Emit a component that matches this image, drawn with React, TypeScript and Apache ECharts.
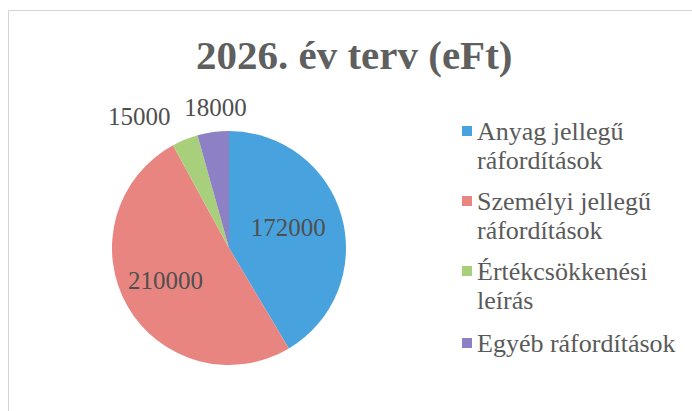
import React, { useEffect, useRef } from "react";
import * as echarts from "echarts";

const titleText = "2026. év terv (eFt)";
const categories = [
  "Anyag jellegű ráfordítások",
  "Személyi jellegű ráfordítások",
  "Értékcsökkenési leírás",
  "Egyéb ráfordítások",
];
const legendLines = [
  ["Anyag jellegű", "ráfordítások"],
  ["Személyi jellegű", "ráfordítások"],
  ["Értékcsökkenési", "leírás"],
  ["Egyéb ráfordítások"],
];
const values = [172000, 210000, 15000, 18000];
const labelPositions = ["inside", "inside", "outside", "outside"];
const colors = ["#48a2de", "#e98580", "#a8cf7c", "#8d80c5"];

const FONT = "'Liberation Serif', 'Times New Roman', serif";

export default function App() {
  const ref = useRef<HTMLDivElement>(null);

  useEffect(() => {
    if (!ref.current) return;
    const chart = echarts.init(ref.current, null, { renderer: "svg" });
    const legendTops = [87.5, 157.5, 227.5, 328.5];
    chart.setOption({
      animation: false,
      backgroundColor: "#ffffff",
      color: colors,
      title: {
        text: titleText,
        left: 196,
        top: 32,
        padding: 0,
        textStyle: {
          fontFamily: FONT,
          fontSize: 41,
          fontWeight: "bold",
          color: "#5f5f5f",
          lineHeight: 46,
        },
      },
      graphic: [
        {
          type: "rect",
          silent: true,
          z: -10,
          shape: { x: 8.5, y: 10.5, width: 720, height: 440 },
          style: { fill: "none", stroke: "#d4d4d4", lineWidth: 1 },
        },
      ],
      legend: categories.map((c, i) => ({
        data: [c],
        orient: "vertical",
        left: 462,
        top: legendTops[i],
        padding: 0,
        itemWidth: 10,
        itemHeight: 10,
        itemGap: 0,
        icon: "rect",
        selectedMode: false,
        formatter: () =>
          legendLines[i].length > 1
            ? "\n" + legendLines[i].join("\n")
            : legendLines[i][0],
        textStyle: {
          fontFamily: FONT,
          fontSize: 26,
          lineHeight: 29,
          color: "#5a5a5a",
        },
      })),
      series: [
        {
          type: "pie",
          center: [229, 248],
          radius: [0, 117],
          startAngle: 90,
          clockwise: true,
          avoidLabelOverlap: false,
          emphasis: { disabled: true },
          itemStyle: { borderWidth: 0 },
          data: categories.map((name, i) => ({
            name,
            value: values[i],
            label: { position: labelPositions[i] },
          })),
          label: {
            fontFamily: FONT,
            fontSize: 25,
            color: "#4f4f4f",
            formatter: (p: any) => String(p.value),
          },
          labelLine: { show: false, length: 25, length2: 0 },
          labelLayout: (p: any) =>
            p.dataIndex === 3
              ? { dx: 42 }
              : p.dataIndex === 1
              ? { dx: -10, dy: 2 }
              : p.dataIndex === 0
              ? { dy: -4 }
              : {},
        },
      ],
    });
    return () => chart.dispose();
  }, []);

  return (
    <div
      ref={ref}
      style={{ position: "fixed", left: 0, top: 0, width: 692, height: 411 }}
    />
  );
}
